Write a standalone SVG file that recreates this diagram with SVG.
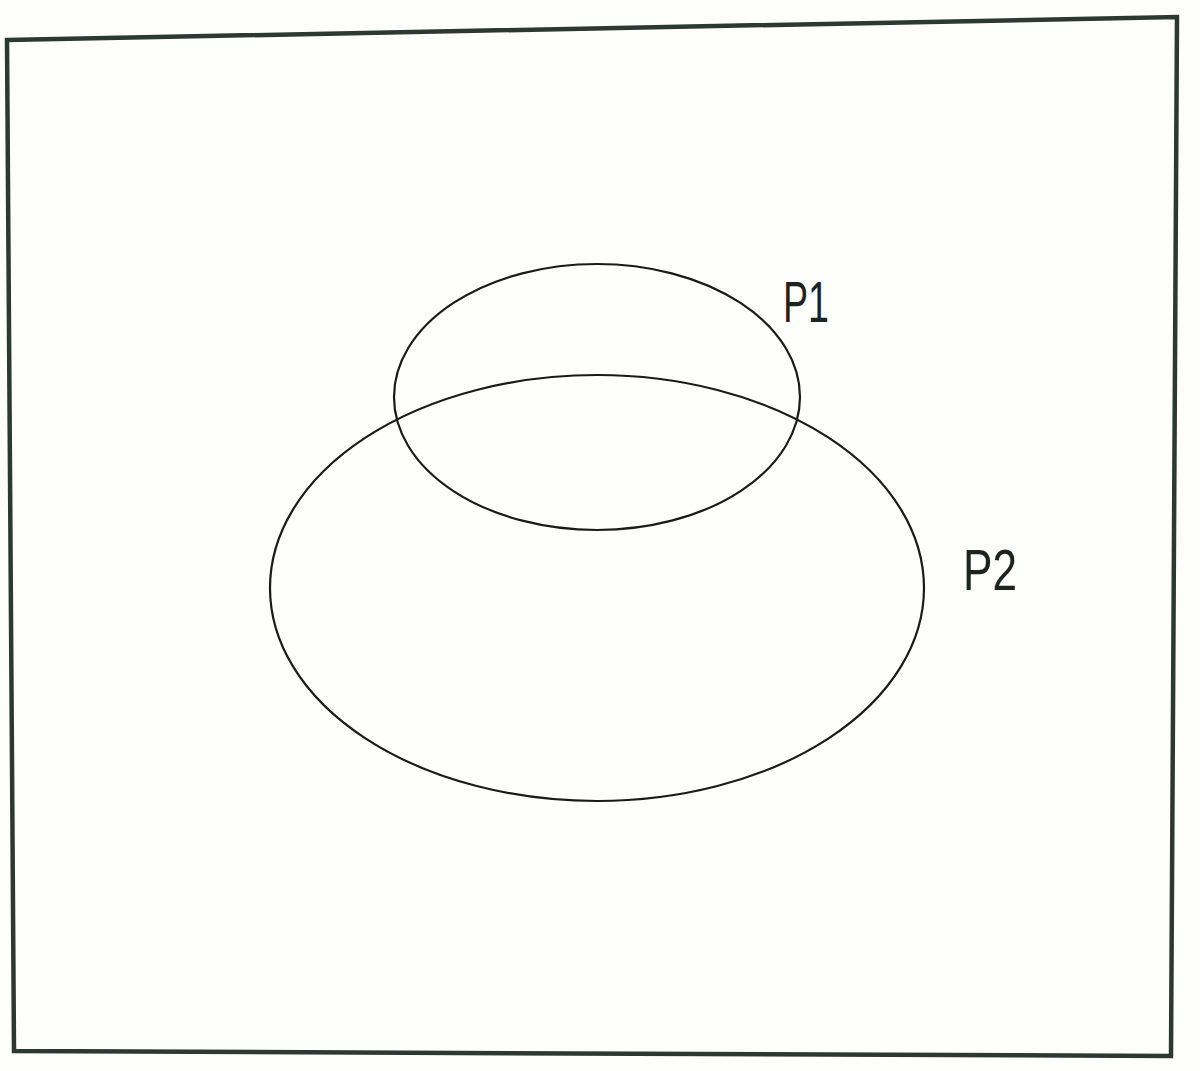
<svg xmlns="http://www.w3.org/2000/svg" width="1200" height="1071" viewBox="0 0 1200 1071">
<style>
.set{fill:none;stroke:#1a1a1a;stroke-width:2.2}
.lbl{font-family:"Liberation Sans","DejaVu Sans",sans-serif;font-size:58px;fill:#1c2420}
</style>
<rect width="1200" height="1071" fill="#fefefc"/>
<g id="frame"><polygon points="7,40 1177,17 1171,1056 14,1051" fill="none" stroke="#2c3833" stroke-width="4.5"/></g>
<g id="P2"><ellipse class="set" cx="597" cy="588" rx="327" ry="213"/><text class="lbl" x="963" y="590" textLength="54" lengthAdjust="spacingAndGlyphs">P2</text></g>
<g id="P1"><ellipse class="set" cx="597" cy="397" rx="203" ry="133"/><text class="lbl" x="783" y="322" textLength="46" lengthAdjust="spacingAndGlyphs">P1</text></g>
<g id="connectors"></g>
</svg>
